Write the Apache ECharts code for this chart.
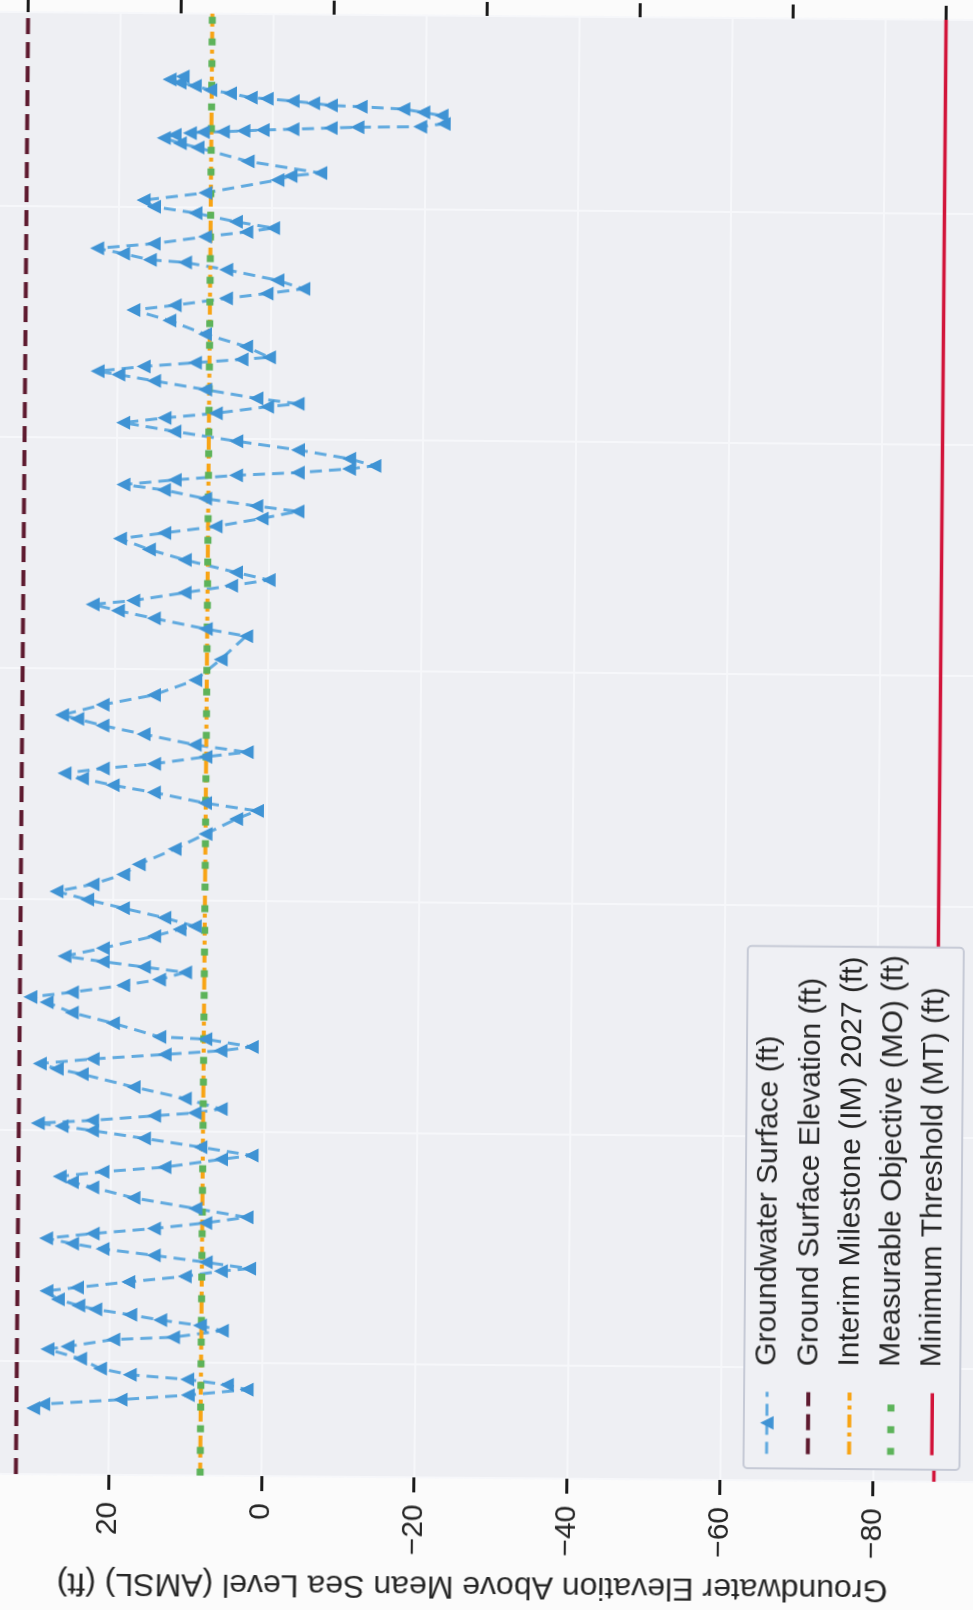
<!DOCTYPE html>
<html>
<head>
<meta charset="utf-8">
<script src="https://cdn.jsdelivr.net/npm/echarts@6/dist/echarts.min.js"></script>
<style>
  html, body { margin: 0; padding: 0; width: 973px; height: 1610px; overflow: hidden; background: #fbfbfb; }
  /* the hydrograph is laid out landscape and turned a quarter turn on the page */
  #chart { position: absolute; left: -315px; top: 255px; width: 1610px; height: 1100px;
           transform: rotate(-89.52deg); transform-origin: 50% 50%; }
</style>
</head>
<body>
<div id="chart"></div>
<script>
// Groundwater surface measurements: decimal year and elevation (ft AMSL)
const gwYear = [
  1993.98, 1994.07, 1994.18, 1994.29, 1994.42, 1994.52, 1994.63, 1994.72, 1994.85, 1995.06,
  1995.26, 1995.32, 1995.48, 1995.54, 1995.69, 1995.80, 1995.91, 1996.02, 1996.13, 1996.21,
  1996.34, 1996.52,
  1996.60, 1996.73, 1996.86, 1996.98, 1997.04, 1997.17, 1997.31, 1997.44, 1997.55, 1997.66,
  1997.77, 1997.89, 1998.02, 1998.15, 1998.33, 1998.55, 1998.77, 1998.88, 1999.00,
  1999.11, 1999.22, 1999.40, 1999.49, 1999.66, 1999.84, 2000.00, 2000.09, 2000.15,
  2000.22, 2000.33, 2000.40, 2000.49, 2000.71, 2000.95, 2001.22, 2001.33, 2001.44,
  2001.55, 2001.66, 2001.75, 2001.84, 2002.00, 2002.04, 2002.33, 2002.55, 2002.77, 2002.88,
  2002.99, 2003.15, 2003.28, 2003.44, 2003.55, 2003.66, 2003.77,
  2003.95, 2004.22, 2004.37, 2004.44, 2004.62, 2004.82, 2005.00, 2005.17,
  2005.33, 2005.55, 2005.77, 2006.11, 2006.44, 2006.77, 2006.95,
  2007.11, 2007.33, 2007.48, 2007.62, 2007.73, 2007.84, 2007.95, 2008.11, 2008.22,
  2008.37, 2008.59, 2008.77, 2008.91, 2008.99, 2009.22, 2009.44, 2009.77, 2010.22, 2010.73,
  2010.88, 2011.10, 2011.26, 2011.39, 2011.48, 2011.66, 2011.82, 2011.95,
  2012.11, 2012.37, 2012.59, 2012.82, 2012.95, 2013.10, 2013.28, 2013.44,
  2013.55, 2013.70, 2013.88, 2013.99, 2014.10, 2014.21, 2014.28, 2014.37, 2014.44,
  2014.59, 2014.77, 2014.95, 2015.15, 2015.33, 2015.44, 2015.55, 2015.70, 2015.77,
  2015.88, 2016.06, 2016.24, 2016.37, 2016.44, 2016.55, 2016.64, 2016.72, 2016.77,
  2017.00, 2017.26, 2017.55, 2017.77, 2017.88, 2018.04, 2018.15, 2018.26,
  2018.44, 2018.66, 2018.81, 2018.86, 2018.99, 2019.10, 2019.21, 2019.37, 2019.48, 2019.57,
  2019.70, 2019.88, 2020.01, 2020.15, 2020.32, 2020.61, 2020.70, 2020.77,
  2021.01, 2021.30, 2021.39, 2021.50, 2021.57, 2021.61,
  2021.635, 2021.646, 2021.668, 2021.690, 2021.713, 2021.746, 2021.768, 2021.790, 2021.857,
  2022.035, 2022.101, 2022.168, 2022.212, 2022.235, 2022.279, 2022.323, 2022.368, 2022.390, 2022.479,
  2022.546, 2022.634, 2022.701, 2022.768, 2022.834
];
const gwElev = [
  29.9, 28.6, 18.5, 9.7, 2.0, 4.6, 9.8, 17.3, 21.2, 23.8,
  28.1, 25.5, 19.5, 11.7, 5.3, 8.2, 13.4, 17.3, 21.9, 24.1,
  26.8, 28.3,
  24.3, 17.6, 10.2, 5.5, 1.8, 7.5, 14.3, 21.0, 25.0, 28.4,
  22.3, 14.3, 7.6, 2.2, 8.9, 17.0, 22.4, 25.1, 26.7,
  21.1, 13.0, 5.6, 1.6, 8.3, 15.7, 22.5, 26.5, 29.6,
  22.5, 14.4, 9.1, 5.7, 10.4, 17.1, 23.9, 27.2, 29.4,
  22.5, 13.1, 5.8, 1.7, 7.8, 13.8, 19.9, 25.3, 28.6, 30.7,
  25.3, 18.6, 13.9, 10.5, 15.9, 21.3, 26.3,
  21.3, 14.6, 11.3, 9.3, 13.3, 18.7, 23.4, 27.4,
  22.7, 18.7, 16.7, 12.0, 8.0, 4.0, 1.3,
  8.1, 14.8, 20.2, 24.2, 26.5, 21.5, 14.8, 8.1, 2.7,
  9.5, 16.2, 21.6, 24.9, 26.9, 21.6, 14.9, 9.5, 6.2, 2.9,
  8.2, 15.0, 19.7, 23.0, 17.7, 11.0, 4.9, 0.0,
  4.3, 11.0, 15.7, 19.5, 13.7, 7.0, 1.0, -3.7,
  1.7, 8.4, 13.8, 19.1, 12.4, 4.4, -3.7, -10.4, -13.7,
  -10.4, -3.7, 4.4, 12.5, 19.2, 13.8, 7.1, 0.4, -3.6,
  1.8, 8.5, 15.2, 19.9, 22.6, 16.6, 9.9, 3.8, 0.2,
  3.2, 8.6, 13.3, 18.0, 12.6, 5.9, 0.6, -4.2,
  -0.8, 5.9, 11.3, 15.9, 19.4, 22.8, 15.4, 8.7, 3.3, -0.2,
  4.7, 10.0, 15.4, 16.8, 8.7, -0.7, -2.4, -6.3,
  3.2, 9.8, 12.1, 14.2, 12.8, 10.8,
  9.1, 6.5, 3.8, 1.3, -2.6, -7.6, -11.1, -19.3, -22.4,
  -22.1, -19.7, -17.1, -11.5, -7.6, -5.3, -2.6, 0.8, 2.9, 5.6,
  8.2, 10.2, 12.2, 13.5, 11.8
];

// Sustainability criteria and ground surface (ft AMSL)
const groundSurface = 32.1;
const interimMilestone2027 = 8.0;
const measurableObjective = 8.0;
const minimumThreshold = -88.0;

// Period shown and elevation range
const periodYears = [1992.55, 2024.2];
const elevRange = [-95.9, 40.5];

const seriesNames = [
  'Groundwater Surface (ft)',
  'Ground Surface Elevation (ft)',
  'Interim Milestone (IM) 2027 (ft)',
  'Measurable Objective (MO) (ft)',
  'Minimum Threshold (MT) (ft)'
];
const yTitle = 'Groundwater Elevation Above Mean Sea Level (AMSL) (ft)';

const FONT = '"Liberation Sans", Arial, Helvetica, sans-serif';
const TEXT = '#262626';

const flat = v => [[periodYears[0], v], [periodYears[1], v]];
const gwData = gwYear.map((t, i) => [t, gwElev[i]]);

const chart = echarts.init(document.getElementById('chart'), null, { renderer: 'canvas' });
chart.setOption({
  animation: false,
  backgroundColor: 'transparent',
  textStyle: { fontFamily: FONT },
  grid: {
    left: 132, right: 16, top: 17.2, bottom: 40,
    show: true, backgroundColor: '#eeeff3', borderWidth: 0,
    containLabel: false, outerBoundsMode: 'none'
  },
  xAxis: {
    type: 'value', min: periodYears[0], max: periodYears[1], splitNumber: 6,
    axisLine: { show: false }, axisTick: { show: false }, axisLabel: { show: false },
    splitLine: { show: true, lineStyle: { color: '#f6f7fa', width: 2 } }
  },
  yAxis: [
    {
      type: 'value', min: elevRange[0], max: elevRange[1], splitNumber: 7,
      name: yTitle, nameLocation: 'middle', nameRotate: 90, nameGap: 92,
      nameTextStyle: { fontSize: 32, color: TEXT, fontFamily: FONT },
      axisLine: { show: false },
      axisTick: { show: true, length: 15, lineStyle: { color: '#1a1a1a', width: 3 } },
      axisLabel: {
        show: true, margin: 27, fontSize: 30, color: TEXT, fontFamily: FONT,
        showMinLabel: false, showMaxLabel: false,
        formatter: v => String(v).replace('-', '\u2212')
      },
      splitLine: { show: true, lineStyle: { color: '#f6f7fa', width: 2 } }
    },
    {
      // depth below ground surface, sharing the elevation scale
      type: 'value', position: 'right', inverse: true,
      min: groundSurface - elevRange[1], max: groundSurface - elevRange[0], splitNumber: 7,
      axisLine: { show: false },
      axisTick: { show: true, length: 14, lineStyle: { color: '#1a1a1a', width: 3 } },
      axisLabel: { show: false },
      splitLine: { show: false }
    }
  ],
  legend: {
    orient: 'vertical', left: 144, top: 809,
    padding: [8, 8, 12.8, 11],
    itemWidth: 62, itemHeight: 17, itemGap: 11.3,
    backgroundColor: '#eff0f4', borderColor: '#c6cad6', borderWidth: 2, borderRadius: 4,
    lineStyle: { width: 'inherit' },
    textStyle: { fontSize: 30, lineHeight: 30, color: TEXT, fontFamily: FONT, padding: [0, 0, 0, 21] },
    data: seriesNames.map((name, i) => i === 0 ? { name } : { name, itemStyle: { opacity: 0 } })
  },
  series: [
    {
      name: seriesNames[0], type: 'line', data: gwData,
      symbol: 'triangle', symbolSize: 14, showSymbol: true,
      itemStyle: { color: '#3f93d4' },
      lineStyle: { color: '#61aadf', width: 3, type: [12, 7] }
    },
    {
      name: seriesNames[1], type: 'line', data: flat(groundSurface), symbol: 'none',
      lineStyle: { color: '#5e1a2f', width: 4, type: [16, 8] }, itemStyle: { color: '#5e1a2f' }
    },
    {
      name: seriesNames[2], type: 'line', data: flat(interimMilestone2027), symbol: 'none',
      lineStyle: { color: '#f8a414', width: 4, type: [13, 5, 4, 5] }, itemStyle: { color: '#f8a414' }
    },
    {
      name: seriesNames[3], type: 'line', data: flat(measurableObjective), symbol: 'none',
      lineStyle: { color: '#5db35a', width: 7, type: [7, 14.67] }, itemStyle: { color: '#5db35a' }
    },
    {
      name: seriesNames[4], type: 'line', data: flat(minimumThreshold), symbol: 'none',
      lineStyle: { color: '#d2143a', width: 3.5 }, itemStyle: { color: '#d2143a' }
    }
  ]
});
</script>
</body>
</html>
